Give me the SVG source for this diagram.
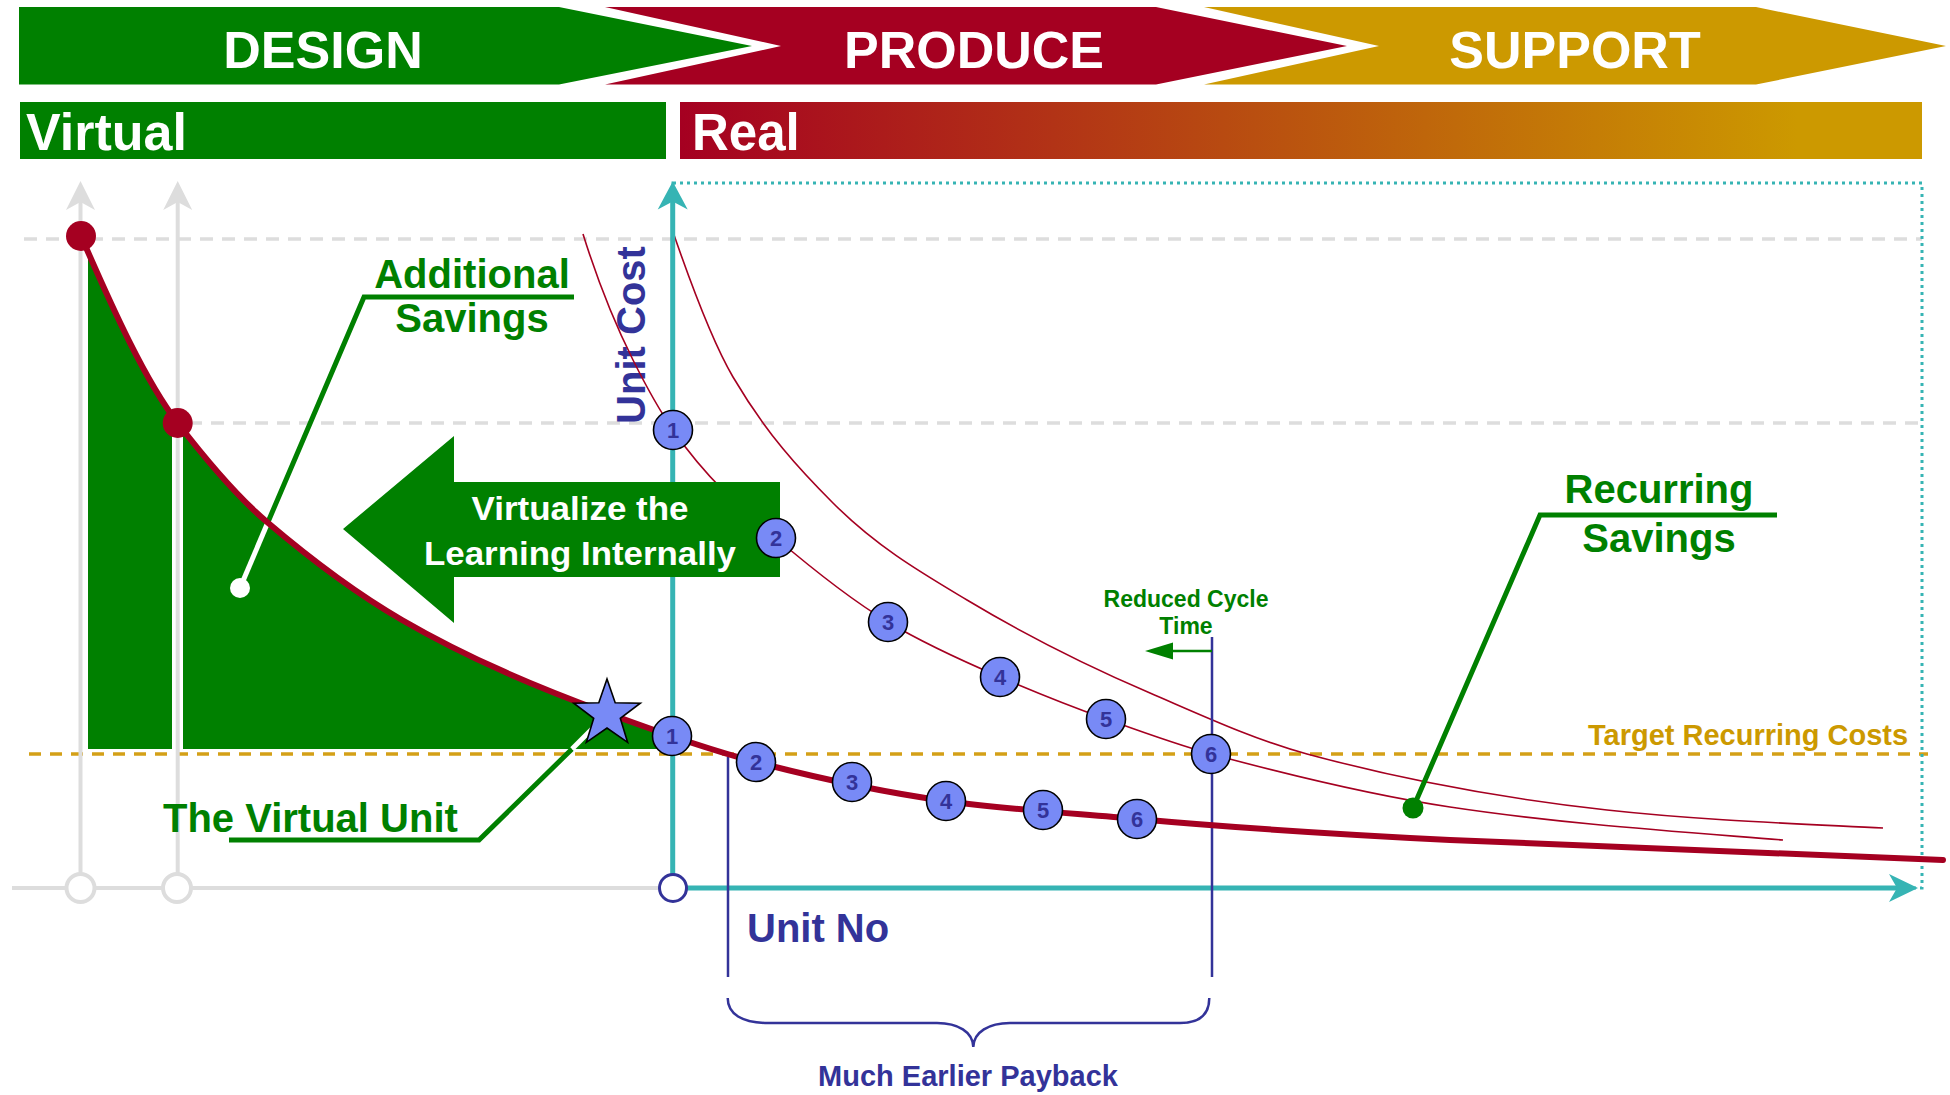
<svg xmlns="http://www.w3.org/2000/svg" width="1950" height="1095" viewBox="0 0 1950 1095">
<defs>
<linearGradient id="realGrad" x1="680" y1="0" x2="1922" y2="0" gradientUnits="userSpaceOnUse">
<stop offset="0" stop-color="#A50021"/>
<stop offset="0.9" stop-color="#CC9900"/>
<stop offset="1" stop-color="#CC9900"/>
</linearGradient>
<style>
text{font-family:"Liberation Sans",Arial,Helvetica,sans-serif;font-weight:bold}
.hdr{fill:#fff;font-size:52px;text-anchor:middle}
.bar{fill:#fff;font-size:52px}
.grn{fill:#008000}
.navy{fill:#333399}
.gdash{stroke:#DDDDDD;stroke-width:3.5;stroke-dasharray:13 9;fill:none}
.gaxis{stroke:#DDDDDD;stroke-width:4;fill:none}
.gcirc{stroke:#DDDDDD;stroke-width:4;fill:#fff}
.thin{stroke:#A50021;stroke-width:1.6;fill:none}
.thick{stroke:#A50021;stroke-width:6;fill:none;stroke-linecap:round}
.teal{stroke:#36B4B4;stroke-width:5;fill:none}
.lead{stroke:#008000;stroke-width:5;fill:none}
.leadw{stroke:#fff;stroke-width:5;fill:none}
.vline{stroke:#333399;stroke-width:2.5;fill:none}
.node circle{fill:#788AF6;stroke:#000;stroke-width:1.6}
.node text{fill:#333399;font-size:22px;text-anchor:middle}
</style>
</defs>
<rect x="0" y="0" width="1950" height="1095" fill="#fff"/>

<g id="phase-design"><polygon points="19,7 559,7 752,46 559,84.5 19,84.5" fill="#008000"/><text class="hdr" x="323" y="68">DESIGN</text></g>
<g id="phase-produce"><polygon points="605,7 1156,7 1347,46 1156,84.5 605,84.5 781,46" fill="#A50021"/><text class="hdr" x="974" y="68">PRODUCE</text></g>
<g id="phase-support"><polygon points="1204,7 1756,7 1946,46 1756,84.5 1204,84.5 1379,46" fill="#CC9900"/><text class="hdr" x="1575" y="68">SUPPORT</text></g>

<g id="bar-virtual"><rect x="20" y="102" width="646" height="57" fill="#008000"/><text class="bar" x="26" y="150">Virtual</text></g>
<g id="bar-real"><rect x="680" y="102" width="1242" height="57" fill="url(#realGrad)"/><text class="bar" x="692" y="150" style="font-size:51px">Real</text></g>

<g id="gridlines">
<line class="gdash" x1="24" y1="239" x2="1922" y2="239"/>
<line class="gdash" x1="123" y1="423" x2="1922" y2="423"/>
<line x1="29" y1="754" x2="1928" y2="754" stroke="#D4A017" stroke-width="3.5" stroke-dasharray="12 9"/>
<rect x="673" y="183" width="1249" height="705" fill="none" stroke="#36B4B4" stroke-width="3" stroke-dasharray="3 4"/>
</g>

<g id="virtual-axes">
<line class="gaxis" x1="12" y1="888" x2="659" y2="888"/>
<line class="gaxis" x1="80.5" y1="873" x2="80.5" y2="200"/>
<polygon points="80.5,181 95,210 80.5,202 66,210" fill="#DDDDDD"/>
</g>

<g id="savings-fill">
<path d="M88,749 L88,252 L81,236 C113.2,310.1 145.5,381.1 177.7,423 C207.5,461.7 237.2,496.7 267,522 C312,560.3 357,593.9 402,620 C470.3,659.6 538.7,687.7 607,713 L672,736 L672,749 Z" fill="#008000"/>
<rect x="172" y="423" width="11" height="328" fill="#fff"/>
<line class="gaxis" x1="177.7" y1="873" x2="177.7" y2="200"/>
<polygon points="177.7,181 192.2,210 177.7,202 163.2,210" fill="#DDDDDD"/>
<circle class="gcirc" cx="80.5" cy="888" r="14"/>
<circle class="gcirc" cx="177" cy="888" r="14"/>
</g>

<g id="unit-cost-label"><text class="navy" transform="translate(645,335) rotate(-90)" text-anchor="middle" style="font-size:40px">Unit Cost</text></g>

<g id="curves">
<path class="thin" d="M583,234 C599.7,287.4 616.3,326.6 633,360 C646.3,386.6 659.7,410.7 673,430 C707.3,479.7 741.7,508.8 776,538 C813.3,569.7 850.7,599.6 888,622 C925.3,644.4 962.7,661 1000,677 C1035.3,692.2 1070.7,706.3 1106,719 C1141,731.6 1176,744.5 1211,754 C1290.7,775.5 1370.3,795 1450,807 C1561,823.7 1672,831.1 1783,840"/>
<path class="thin" d="M673,232 C693,290 713,343 733,377 C766.3,433.7 799.7,469.7 833,503 C877.7,547.7 922.3,573.2 967,600 C1028,636.6 1089,666.8 1150,693 C1202.3,715.5 1254.7,739.9 1307,754 C1407,781 1507,799 1607,810 C1699,820.1 1791,823.4 1883,828"/>
</g>

<g id="real-axes">
<line class="teal" x1="672.7" y1="874" x2="672.7" y2="200"/>
<polygon points="672.7,181.5 687.7,209.5 672.7,201.5 657.7,209.5" fill="#36B4B4"/>
<line class="teal" x1="687" y1="888" x2="1900" y2="888"/>
<polygon points="1918,888 1889,874 1897,888 1889,902" fill="#36B4B4"/>
<circle cx="673" cy="888" r="13.5" fill="#fff" stroke="#333399" stroke-width="3"/>
</g>

<g id="virtualize-arrow">
<polygon points="343,529 454,436 454,482 780,482 780,577 454,577 454,623" fill="#008000"/>
<text x="580" y="520" fill="#fff" text-anchor="middle" style="font-size:33px" textLength="217" lengthAdjust="spacingAndGlyphs">Virtualize the</text>
<text x="580" y="565" fill="#fff" text-anchor="middle" style="font-size:33px" textLength="312" lengthAdjust="spacingAndGlyphs">Learning Internally</text>
</g>

<g id="connectors">
<polyline class="lead" points="574,297 364,297 268,522"/>
<line class="leadw" x1="268" y1="522" x2="240" y2="588"/>
<circle cx="240" cy="588" r="10" fill="#fff"/>
<polyline class="lead" points="229,840 479,840 572,749"/>
<line class="leadw" x1="572" y1="749" x2="607" y2="714"/>
<polyline class="lead" points="1777,515 1540,515 1413,808"/>
<circle cx="1413" cy="808" r="10.5" fill="#008000"/>
<line class="vline" x1="728" y1="757" x2="728" y2="977"/>
<line class="vline" x1="1212" y1="637" x2="1212" y2="977"/>
<line x1="1212" y1="651" x2="1168" y2="651" stroke="#008000" stroke-width="2.5"/>
<polygon points="1145,651 1173,642.5 1173,659.5" fill="#008000"/>
<path class="vline" d="M727.7,998 C727.7,1014 742,1023 768,1023 L937,1023 C958,1023 973,1032 973.3,1047 C973.6,1032 989,1023 1010,1023 L1180,1023 C1200,1023 1209.3,1014 1209.3,998"/>
</g>

<g id="learning-curve">
<path class="thick" d="M81,236 C113.2,310.1 145.5,381.1 177.7,423 C207.5,461.7 237.2,496.7 267,522 C312,560.3 357,593.9 402,620 C470.3,659.6 538.7,687.7 607,713 C656.7,731.4 706.3,749.1 756,762 C819.3,778.5 882.7,792.1 946,801 C1009.7,809.9 1073.3,813.3 1137,819 C1241.3,828.4 1345.7,834.8 1450,840 C1614.3,848.2 1778.7,854.2 1943,860"/>
<circle cx="81" cy="236" r="15" fill="#A50021"/>
<circle cx="177.7" cy="423" r="15" fill="#A50021"/>
</g>

<g id="virtual-unit-star">
<polygon points="607,679 615.2,702.7 640.3,703.2 620.3,718.3 627.6,742.3 607,728 586.4,742.3 593.7,718.3 573.7,703.2 598.8,702.7" fill="#788AF6" stroke="#000" stroke-width="1.6" stroke-linejoin="miter"/>
</g>

<g id="node-u1" class="node"><circle cx="673" cy="430" r="19.5"/><text x="673" y="438">1</text></g>
<g id="node-u2" class="node"><circle cx="776" cy="538" r="19.5"/><text x="776" y="546">2</text></g>
<g id="node-u3" class="node"><circle cx="888" cy="622" r="19.5"/><text x="888" y="630">3</text></g>
<g id="node-u4" class="node"><circle cx="1000" cy="677" r="19.5"/><text x="1000" y="685">4</text></g>
<g id="node-u5" class="node"><circle cx="1106" cy="719" r="19.5"/><text x="1106" y="727">5</text></g>
<g id="node-u6" class="node"><circle cx="1211" cy="754" r="19.5"/><text x="1211" y="762">6</text></g>
<g id="node-l1" class="node"><circle cx="672" cy="736" r="19.5"/><text x="672" y="744">1</text></g>
<g id="node-l2" class="node"><circle cx="756" cy="762" r="19.5"/><text x="756" y="770">2</text></g>
<g id="node-l3" class="node"><circle cx="852" cy="782" r="19.5"/><text x="852" y="790">3</text></g>
<g id="node-l4" class="node"><circle cx="946" cy="801" r="19.5"/><text x="946" y="809">4</text></g>
<g id="node-l5" class="node"><circle cx="1043" cy="810" r="19.5"/><text x="1043" y="818">5</text></g>
<g id="node-l6" class="node"><circle cx="1137" cy="819" r="19.5"/><text x="1137" y="827">6</text></g>

<g id="labels">
<text class="grn" x="472" y="288" text-anchor="middle" style="font-size:40px">Additional</text>
<text class="grn" x="472" y="332" text-anchor="middle" style="font-size:40px">Savings</text>
<text class="grn" x="163" y="832" style="font-size:40px">The Virtual Unit</text>
<text class="grn" x="1659" y="503" text-anchor="middle" style="font-size:40px">Recurring</text>
<text class="grn" x="1659" y="552" text-anchor="middle" style="font-size:40px">Savings</text>
<text class="grn" x="1186" y="607" text-anchor="middle" style="font-size:23px">Reduced Cycle</text>
<text class="grn" x="1186" y="634" text-anchor="middle" style="font-size:23px">Time</text>
<text x="1588" y="745" fill="#CC9900" style="font-size:29px">Target Recurring Costs</text>
<text class="navy" x="747" y="942" style="font-size:40px">Unit No</text>
<text class="navy" x="968" y="1086" text-anchor="middle" style="font-size:29px">Much Earlier Payback</text>
</g>
</svg>
